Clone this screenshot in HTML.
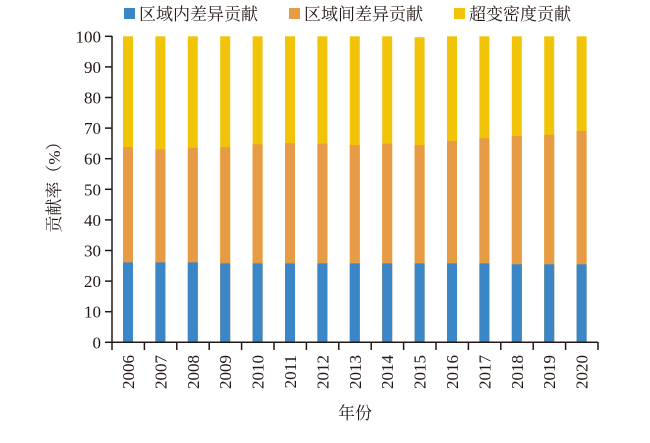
<!DOCTYPE html>
<html><head><meta charset="utf-8"><style>
html,body{margin:0;padding:0;background:#fff;}
svg text{font-family:"Liberation Serif","Noto Serif CJK SC",serif;fill:#231815;}
</style></head><body>
<svg width="650" height="438" viewBox="0 0 650 438" xmlns="http://www.w3.org/2000/svg">
<g font-size="17">
<rect x="124" y="8" width="11" height="11" fill="#3a86c6"/>
<text x="139" y="20">区域内差异贡献</text>
<rect x="289" y="8" width="11" height="11" fill="#e89b45"/>
<text x="304" y="20">区域间差异贡献</text>
<rect x="454" y="8" width="11" height="11" fill="#f1c40a"/>
<text x="469" y="20">超变密度贡献</text>
</g>
<g fill="#f1c40a">
<rect x="123" y="36.3" width="10" height="306"/>
<rect x="155.4" y="36.3" width="10" height="306"/>
<rect x="187.8" y="36.3" width="10" height="306"/>
<rect x="220.2" y="36.3" width="10" height="306"/>
<rect x="252.6" y="36.3" width="10" height="306"/>
<rect x="285" y="36.3" width="10" height="306"/>
<rect x="317.4" y="36.3" width="10" height="306"/>
<rect x="349.8" y="36.3" width="10" height="306"/>
<rect x="382.2" y="36.3" width="10" height="306"/>
<rect x="414.6" y="37.2" width="10" height="305.1"/>
<rect x="447" y="36.3" width="10" height="306"/>
<rect x="479.4" y="36.3" width="10" height="306"/>
<rect x="511.8" y="36.3" width="10" height="306"/>
<rect x="544.2" y="36.3" width="10" height="306"/>
<rect x="576.6" y="36.3" width="10" height="306"/>
</g>
<g fill="#e89b45">
<rect x="123" y="147.1" width="10" height="195.2"/>
<rect x="155.4" y="149.5" width="10" height="192.8"/>
<rect x="187.8" y="147.7" width="10" height="194.6"/>
<rect x="220.2" y="147.1" width="10" height="195.2"/>
<rect x="252.6" y="144.3" width="10" height="198"/>
<rect x="285" y="143.1" width="10" height="199.2"/>
<rect x="317.4" y="143.7" width="10" height="198.6"/>
<rect x="349.8" y="144.9" width="10" height="197.4"/>
<rect x="382.2" y="143.7" width="10" height="198.6"/>
<rect x="414.6" y="144.9" width="10" height="197.4"/>
<rect x="447" y="140.9" width="10" height="201.4"/>
<rect x="479.4" y="138.2" width="10" height="204.1"/>
<rect x="511.8" y="136.1" width="10" height="206.2"/>
<rect x="544.2" y="134.8" width="10" height="207.5"/>
<rect x="576.6" y="130.9" width="10" height="211.4"/>
</g>
<g fill="#3a86c6">
<rect x="123" y="262.4" width="10" height="79.9"/>
<rect x="155.4" y="262.4" width="10" height="79.9"/>
<rect x="187.8" y="262.4" width="10" height="79.9"/>
<rect x="220.2" y="263.4" width="10" height="78.9"/>
<rect x="252.6" y="263.4" width="10" height="78.9"/>
<rect x="285" y="263.4" width="10" height="78.9"/>
<rect x="317.4" y="263.4" width="10" height="78.9"/>
<rect x="349.8" y="263.4" width="10" height="78.9"/>
<rect x="382.2" y="263.4" width="10" height="78.9"/>
<rect x="414.6" y="263.4" width="10" height="78.9"/>
<rect x="447" y="263.4" width="10" height="78.9"/>
<rect x="479.4" y="263.4" width="10" height="78.9"/>
<rect x="511.8" y="264.3" width="10" height="78"/>
<rect x="544.2" y="264.3" width="10" height="78"/>
<rect x="576.6" y="264.3" width="10" height="78"/>
</g>
<g stroke="#231815" stroke-width="1.5" fill="none">
<line x1="112" y1="36" x2="112" y2="343"/>
<line x1="111" y1="342.3" x2="598" y2="342.3"/>
<line x1="105" y1="342.3" x2="112" y2="342.3"/>
<line x1="105" y1="311.7" x2="112" y2="311.7"/>
<line x1="105" y1="281.1" x2="112" y2="281.1"/>
<line x1="105" y1="250.5" x2="112" y2="250.5"/>
<line x1="105" y1="219.9" x2="112" y2="219.9"/>
<line x1="105" y1="189.3" x2="112" y2="189.3"/>
<line x1="105" y1="158.7" x2="112" y2="158.7"/>
<line x1="105" y1="128.1" x2="112" y2="128.1"/>
<line x1="105" y1="97.5" x2="112" y2="97.5"/>
<line x1="105" y1="66.9" x2="112" y2="66.9"/>
<line x1="105" y1="36.3" x2="112" y2="36.3"/>
<line x1="112" y1="342" x2="112" y2="350"/>
<line x1="144.4" y1="342" x2="144.4" y2="350"/>
<line x1="176.8" y1="342" x2="176.8" y2="350"/>
<line x1="209.2" y1="342" x2="209.2" y2="350"/>
<line x1="241.6" y1="342" x2="241.6" y2="350"/>
<line x1="274" y1="342" x2="274" y2="350"/>
<line x1="306.4" y1="342" x2="306.4" y2="350"/>
<line x1="338.8" y1="342" x2="338.8" y2="350"/>
<line x1="371.2" y1="342" x2="371.2" y2="350"/>
<line x1="403.6" y1="342" x2="403.6" y2="350"/>
<line x1="436" y1="342" x2="436" y2="350"/>
<line x1="468.4" y1="342" x2="468.4" y2="350"/>
<line x1="500.8" y1="342" x2="500.8" y2="350"/>
<line x1="533.2" y1="342" x2="533.2" y2="350"/>
<line x1="565.6" y1="342" x2="565.6" y2="350"/>
<line x1="598" y1="342" x2="598" y2="350"/>
</g>
<g font-size="17" text-anchor="end">
<text x="101" y="348.3">0</text>
<text x="101" y="317.7">10</text>
<text x="101" y="287.1">20</text>
<text x="101" y="256.5">30</text>
<text x="101" y="225.9">40</text>
<text x="101" y="195.3">50</text>
<text x="101" y="164.7">60</text>
<text x="101" y="134.1">70</text>
<text x="101" y="103.5">80</text>
<text x="101" y="72.9">90</text>
<text x="101" y="42.3">100</text>
</g>
<g font-size="17" text-anchor="end">
<text x="134" y="355" transform="rotate(-90 134 355)">2006</text>
<text x="166.4" y="355" transform="rotate(-90 166.4 355)">2007</text>
<text x="198.8" y="355" transform="rotate(-90 198.8 355)">2008</text>
<text x="231.2" y="355" transform="rotate(-90 231.2 355)">2009</text>
<text x="263.6" y="355" transform="rotate(-90 263.6 355)">2010</text>
<text x="296" y="355" transform="rotate(-90 296 355)">2011</text>
<text x="328.4" y="355" transform="rotate(-90 328.4 355)">2012</text>
<text x="360.8" y="355" transform="rotate(-90 360.8 355)">2013</text>
<text x="393.2" y="355" transform="rotate(-90 393.2 355)">2014</text>
<text x="425.6" y="355" transform="rotate(-90 425.6 355)">2015</text>
<text x="458" y="355" transform="rotate(-90 458 355)">2016</text>
<text x="490.4" y="355" transform="rotate(-90 490.4 355)">2017</text>
<text x="522.8" y="355" transform="rotate(-90 522.8 355)">2018</text>
<text x="555.2" y="355" transform="rotate(-90 555.2 355)">2019</text>
<text x="587.6" y="355" transform="rotate(-90 587.6 355)">2020</text>
</g>
<text x="60" y="183" font-size="17" text-anchor="middle" transform="rotate(-90 60 183)">贡献率（%）</text>
<text x="355" y="419" font-size="17" text-anchor="middle">年份</text>
</svg>
</body></html>
